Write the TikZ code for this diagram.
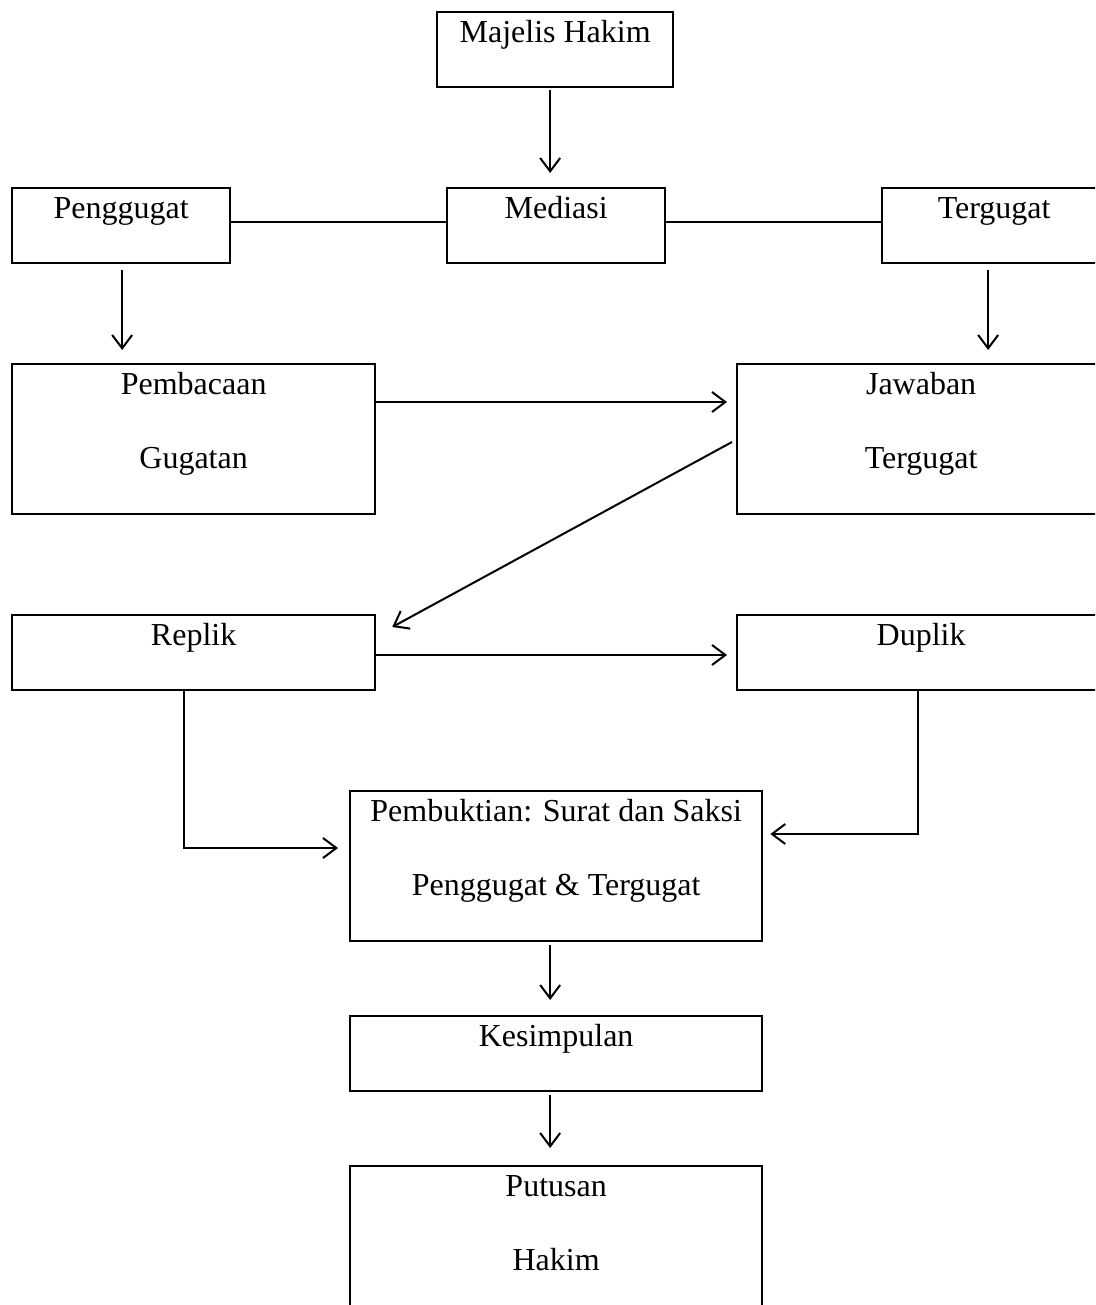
\documentclass[tikz,border=0pt]{standalone}
\usepackage{fontspec}
\setmainfont{Liberation Serif}
\usetikzlibrary{arrows.meta,calc}

\tikzset{
  box/.style={draw, line width=1.7pt, rectangle, anchor=north west, inner sep=0pt,
    minimum height=56.25pt, text height=22.5pt, text depth=33.75pt,
    font=\fontsize{24}{55.5}\selectfont},
  bigbox/.style={box, align=center, minimum height=112.5pt,
    text height=78pt, text depth=34.5pt},
  arr/.style={line width=1.5pt, -{Straight Barb[length=10pt,width=15pt]}},
  link/.style={line width=1.5pt}
}

\begin{document}
\begin{tikzpicture}[x=0.75pt, y=-0.75pt]
  \useasboundingbox (0,0) rectangle (1095,1305);
  \clip (0,0) rectangle (1095,1305);

  % Boxes
  \node[box, minimum width=177pt] (maj) at (436,11) {Majelis Hakim};
  \node[box, minimum width=163.5pt] (pgg) at (11,187) {Penggugat};
  \node[box, minimum width=163.5pt] (med) at (446,187) {Mediasi};
  \node[box, minimum width=168pt] (tgg) at (881,187) {Tergugat};

  \node[bigbox, minimum width=272.25pt] (baca) at (11,363) {Pembacaan\\Gugatan};
  \node[bigbox, minimum width=276pt] (jwb) at (736,363) {Jawaban\\Tergugat};

  \node[box, minimum width=272.25pt] (rep) at (11,614) {Replik};
  \node[box, minimum width=276pt] (dup) at (736,614) {Duplik};

  \node[bigbox, minimum width=309pt] (bukti) at (349,790)
       {Pembuktian: Surat dan Saksi\\Penggugat \& Tergugat};
  \node[box, minimum width=309pt] (simp) at (349,1015) {Kesimpulan};
  \node[bigbox, minimum width=309pt, text depth=46.5pt] (put) at (349,1165) {Putusan\\Hakim};

  % Mediasi
  \draw[arr] ($(maj.south)+(-5,2)$) -- ($(med.north)+(-6,-14)$);
  \draw[link] ($(pgg.east)+(0,-4)$) -- ($(med.west)+(0,-4)$);
  \draw[link] ($(med.east)+(0,-4)$) -- ($(tgg.west)+(0,-4)$);

  % Gugatan dan jawaban
  \draw[arr] ($(pgg.south)+(1,6)$) -- ($(pgg.south |- baca.north)+(1,-13)$);
  \draw[arr] ($(tgg.south)+(-6,6)$) -- ($(tgg.south |- jwb.north)+(-6,-13)$);
  \draw[arr] ($(baca.north east)+(0,39)$) -- ($(jwb.north west)+(-9,39)$);
  \draw[arr] ($(jwb.north west)+(-4,79)$) -- ($(rep.north east)+(16,13)$);

  % Replik, duplik
  \draw[arr] ($(rep.north east)+(0,41)$) -- ($(dup.north west)+(-9,41)$);
  \draw[arr] ($(rep.south)+(-10,0)$) |- ($(bukti.north west)+(-11,58)$);
  \draw[arr] ($(dup.south)+(-3,0)$) |- ($(bukti.north east)+(7,44)$);

  % Putusan
  \draw[arr] ($(bukti.south)+(-6,3)$) -- ($(simp.north)+(-6,-15)$);
  \draw[arr] ($(simp.south)+(-6,3)$) -- ($(put.north)+(-6,-17)$);
\end{tikzpicture}
\end{document}
